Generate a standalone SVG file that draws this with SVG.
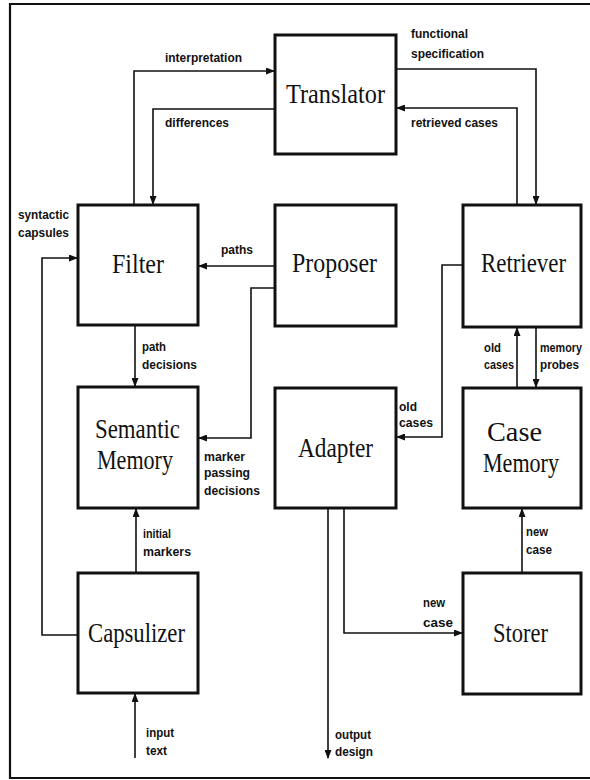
<svg xmlns="http://www.w3.org/2000/svg" width="590" height="780" viewBox="0 0 590 780">
<defs>
<marker id="ah" markerWidth="9" markerHeight="7" refX="8" refY="3.5" orient="auto" markerUnits="userSpaceOnUse">
<path d="M0,0 L9,3.5 L0,7 z" fill="#111"/>
</marker>
<style>
.box{fill:#fff;stroke:#111;stroke-width:3}
.nt{font-family:"Liberation Serif","Times New Roman",serif;font-size:28px;fill:#111}
.lb{font-family:"Liberation Sans",Arial,sans-serif;font-size:13px;font-weight:bold;fill:#111}
.cn{fill:none;stroke:#111;stroke-width:1.6}
.fr{fill:none;stroke:#111;stroke-width:2.2}
</style>
</defs>
<rect width="590" height="780" fill="#fff"/>
<path class="fr" d="M590,4 H10 V778 H590"/>
<g id="connectors">
<path class="cn" d="M134,205 V71 H274" marker-end="url(#ah)"/>
<path class="cn" d="M275,109 H153 V204" marker-end="url(#ah)"/>
<path class="cn" d="M396,69 H536 V204" marker-end="url(#ah)"/>
<path class="cn" d="M517,205 V108 H397" marker-end="url(#ah)"/>
<path class="cn" d="M275,266 H199" marker-end="url(#ah)"/>
<path class="cn" d="M275,288 H251 V438 H199" marker-end="url(#ah)"/>
<path class="cn" d="M463,265 H442 V437 H397" marker-end="url(#ah)"/>
<path class="cn" d="M517,388 V328" marker-end="url(#ah)"/>
<path class="cn" d="M536,327 V387" marker-end="url(#ah)"/>
<path class="cn" d="M135,325 V386" marker-end="url(#ah)"/>
<path class="cn" d="M136,573 V509" marker-end="url(#ah)"/>
<path class="cn" d="M78,635 H42 V258 H77" marker-end="url(#ah)"/>
<path class="cn" d="M135,758 V694" marker-end="url(#ah)"/>
<path class="cn" d="M522,573 V509" marker-end="url(#ah)"/>
<path class="cn" d="M328,508 V758" marker-end="url(#ah)"/>
<path class="cn" d="M344,508 V633 H462" marker-end="url(#ah)"/>
</g>
<g id="labels">
<text class="lb" x="165" y="62" textLength="77" lengthAdjust="spacingAndGlyphs">interpretation</text>
<text class="lb" x="165" y="127" textLength="64" lengthAdjust="spacingAndGlyphs">differences</text>
<text class="lb" x="411" y="38" textLength="57" lengthAdjust="spacingAndGlyphs">functional</text>
<text class="lb" x="411" y="58" textLength="73" lengthAdjust="spacingAndGlyphs">specification</text>
<text class="lb" x="411" y="127" textLength="87" lengthAdjust="spacingAndGlyphs">retrieved cases</text>
<text class="lb" x="18" y="219" textLength="51" lengthAdjust="spacingAndGlyphs">syntactic</text>
<text class="lb" x="18" y="237" textLength="51" lengthAdjust="spacingAndGlyphs">capsules</text>
<text class="lb" x="221" y="254" textLength="32" lengthAdjust="spacingAndGlyphs">paths</text>
<text class="lb" x="142" y="351" textLength="24" lengthAdjust="spacingAndGlyphs">path</text>
<text class="lb" x="142" y="369" textLength="55" lengthAdjust="spacingAndGlyphs">decisions</text>
<text class="lb" x="484" y="352" textLength="17" lengthAdjust="spacingAndGlyphs">old</text>
<text class="lb" x="484" y="369" textLength="30" lengthAdjust="spacingAndGlyphs">cases</text>
<text class="lb" x="540" y="352" textLength="42" lengthAdjust="spacingAndGlyphs">memory</text>
<text class="lb" x="540" y="369" textLength="39" lengthAdjust="spacingAndGlyphs">probes</text>
<text class="lb" x="204" y="461" textLength="41" lengthAdjust="spacingAndGlyphs">marker</text>
<text class="lb" x="204" y="477" textLength="46" lengthAdjust="spacingAndGlyphs">passing</text>
<text class="lb" x="204" y="495" textLength="56" lengthAdjust="spacingAndGlyphs">decisions</text>
<text class="lb" x="399" y="411" textLength="18" lengthAdjust="spacingAndGlyphs">old</text>
<text class="lb" x="399" y="427" textLength="34" lengthAdjust="spacingAndGlyphs">cases</text>
<text class="lb" x="143" y="538" textLength="28" lengthAdjust="spacingAndGlyphs">initial</text>
<text class="lb" x="143" y="556" textLength="48" lengthAdjust="spacingAndGlyphs">markers</text>
<text class="lb" x="526" y="536" textLength="22" lengthAdjust="spacingAndGlyphs">new</text>
<text class="lb" x="526" y="554" textLength="26" lengthAdjust="spacingAndGlyphs">case</text>
<text class="lb" x="146" y="737" textLength="28" lengthAdjust="spacingAndGlyphs">input</text>
<text class="lb" x="146" y="755" textLength="21" lengthAdjust="spacingAndGlyphs">text</text>
<text class="lb" x="423" y="607" textLength="22" lengthAdjust="spacingAndGlyphs">new</text>
<text class="lb" x="423" y="627" textLength="30" lengthAdjust="spacingAndGlyphs">case</text>
<text class="lb" x="335" y="739" textLength="36" lengthAdjust="spacingAndGlyphs">output</text>
<text class="lb" x="335" y="756" textLength="38" lengthAdjust="spacingAndGlyphs">design</text>
</g>
<g id="translator"><rect class="box" x="275" y="35" width="121" height="119"/><text class="nt" x="286" y="103" textLength="99" lengthAdjust="spacingAndGlyphs">Translator</text></g>
<g id="filter"><rect class="box" x="78" y="205" width="120" height="120"/><text class="nt" x="112" y="273" textLength="52" lengthAdjust="spacingAndGlyphs">Filter</text></g>
<g id="proposer"><rect class="box" x="275" y="205" width="121" height="121"/><text class="nt" x="292" y="272" textLength="85" lengthAdjust="spacingAndGlyphs">Proposer</text></g>
<g id="retriever"><rect class="box" x="463" y="205" width="118" height="122"/><text class="nt" x="481" y="272" textLength="85" lengthAdjust="spacingAndGlyphs">Retriever</text></g>
<g id="semantic-memory"><rect class="box" x="78" y="387" width="120" height="121"/><text class="nt" x="95" y="438" textLength="85" lengthAdjust="spacingAndGlyphs">Semantic</text><text class="nt" x="97" y="469" textLength="76" lengthAdjust="spacingAndGlyphs">Memory</text></g>
<g id="adapter"><rect class="box" x="275" y="388" width="121" height="120"/><text class="nt" x="298" y="457" textLength="75" lengthAdjust="spacingAndGlyphs">Adapter</text></g>
<g id="case-memory"><rect class="box" x="463" y="388" width="118" height="120"/><text class="nt" x="487" y="441" textLength="55" lengthAdjust="spacingAndGlyphs">Case</text><text class="nt" x="483" y="472" textLength="76" lengthAdjust="spacingAndGlyphs">Memory</text></g>
<g id="capsulizer"><rect class="box" x="78" y="573" width="120" height="120"/><text class="nt" x="88" y="642" textLength="97" lengthAdjust="spacingAndGlyphs">Capsulizer</text></g>
<g id="storer"><rect class="box" x="463" y="573" width="118" height="121"/><text class="nt" x="493" y="642" textLength="55" lengthAdjust="spacingAndGlyphs">Storer</text></g>
</svg>
